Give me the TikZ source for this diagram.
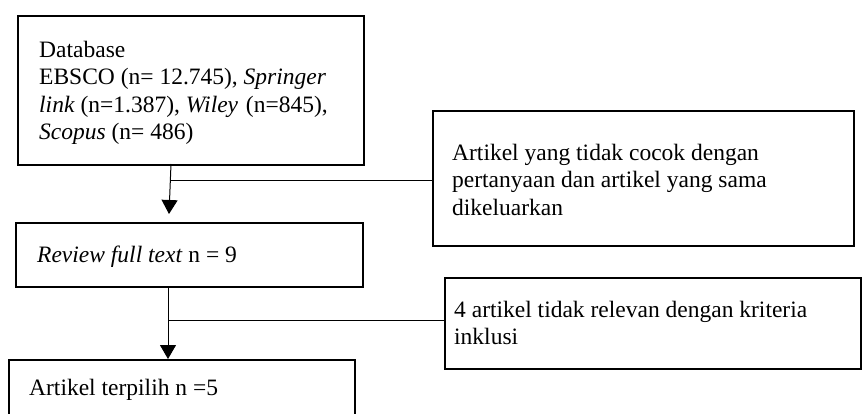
\documentclass[tikz,border=0pt]{standalone}
\usepackage{fontspec}
\setmainfont{Liberation Serif}
\usetikzlibrary{arrows.meta}
\begin{document}
\begin{tikzpicture}[x=1pt,y=-1pt,
  boxst/.style={draw, line width=1.8pt, rectangle, anchor=north west, inner sep=0pt},
  txt/.style={anchor=north west, align=left, inner sep=0pt, font=\fontsize{23.5}{27.3}\selectfont},
  txtb/.style={anchor=base west, inner sep=0pt, font=\fontsize{23.5}{27.3}\selectfont},
  conn/.style={line width=1pt},
  arr/.style={line width=1pt, -{Triangle[width=16pt,length=14pt]}}]
\useasboundingbox (0,0) rectangle (862,414);
% boxes
\node[boxst, minimum width=346pt, minimum height=149pt] (db) at (17,15) {};
\node[boxst, minimum width=421pt, minimum height=135pt] (ex1) at (432,110) {};
\node[boxst, minimum width=347pt, minimum height=64pt] (rv) at (15,222) {};
\node[boxst, minimum width=416pt, minimum height=91pt] (ex2) at (444,277) {};
\node[boxst, minimum width=346pt, minimum height=70pt] (sel) at (8,359) {};
% texts
\node[txt] (tdb) at (39,41) {Database\\EBSCO (n= 12.745), \textit{Springer}\\\textit{link} (n=1.387), \textit{Wiley}\,\,(n=845),\\\textit{Scopus} (n= 486)};
\node[txt] (tex1) at (452,144) {Artikel yang tidak cocok dengan\\pertanyaan dan artikel yang sama\\dikeluarkan};
\node[txtb] (trv) at (37,262) {\textit{Review full text} n = 9};
\node[txt] (tex2) at (454,301) {4 artikel tidak relevan dengan kriteria\\inklusi};
\node[txtb] (tsel) at (29,395) {Artikel terpilih n =5};
% connectors
\coordinate (a1s) at (171,164);
\coordinate (a1t) at (169,214);
\coordinate (j1) at (170.4,181);
\draw[arr] (a1s) -- (a1t);
\draw[conn] (j1) -- (j1 -| ex1.west);
\coordinate (a2s) at (168,286);
\coordinate (j2) at (168,320);
\draw[arr] (a2s) -- (a2s |- sel.north);
\draw[conn] (j2) -- (j2 -| ex2.west);
\end{tikzpicture}
\end{document}
